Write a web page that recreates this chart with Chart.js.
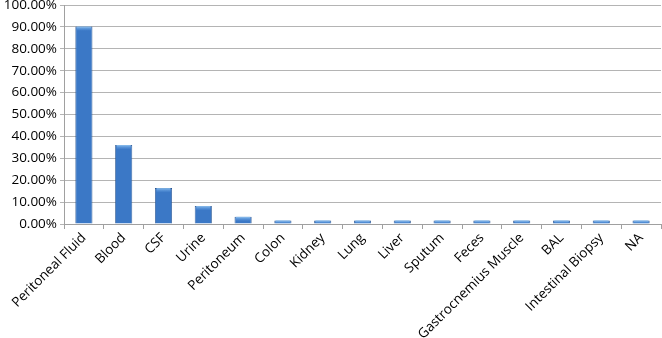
<!DOCTYPE html>
<html>
<head>
<meta charset="utf-8">
<script src="https://cdn.jsdelivr.net/npm/chart.js@4"></script>
<style>
    html, body { margin: 0; padding: 0; background: #fff; }
    #wrap { width: 662px; height: 338px; }
</style>
</head>
<body>
<div id="wrap"><canvas id="sourceChart"></canvas></div>
<script>
const categories = [
    "Peritoneal Fluid", "Blood", "CSF", "Urine", "Peritoneum", "Colon", "Kidney", "Lung",
    "Liver", "Sputum", "Feces", "Gastrocnemius Muscle", "BAL", "Intestinal Biopsy", "NA",
];
const percentages = [90.16, 36.07, 16.39, 8.2, 3.28, 1.64, 1.64, 1.64, 1.64, 1.64, 1.64, 1.64, 1.64, 1.64, 1.64];
const yTicks = [0, 10, 20, 30, 40, 50, 60, 70, 80, 90, 100];

const FONT = { family: "'Open Sans', 'Liberation Sans', sans-serif", size: 13.5 };

// cylinder-ish shading across each bar
function barFill(context) {
    const el = context.element;
    const ctx = context.chart.ctx;
    if (!el || el.width === undefined) return "#3b78c6";
    const x0 = el.x - el.width / 2;
    const x1 = el.x + el.width / 2;
    const g = ctx.createLinearGradient(x0, 0, x1, 0);
    g.addColorStop(0, "#2b5d9e");
    g.addColorStop(0.3, "#4182d2");
    g.addColorStop(0.55, "#4d8ddb");
    g.addColorStop(1, "#2a5a98");
    return g;
}

// light cap at the top of each bar
const capPlugin = {
    id: "capPlugin",
    afterDatasetsDraw(chart) {
        const ctx = chart.ctx;
        const meta = chart.getDatasetMeta(0);
        ctx.save();
        meta.data.forEach((bar) => {
            const w = bar.width;
            const h = Math.min(4, bar.base - bar.y);
            const g = ctx.createLinearGradient(0, bar.y, 0, bar.y + h);
            g.addColorStop(0, "#8cc0f0");
            g.addColorStop(1, "rgba(90,150,220,0.2)");
            ctx.fillStyle = g;
            ctx.fillRect(bar.x - w / 2 + 1.5, bar.y, w - 3, h);
        });
        ctx.restore();
    },
};

const chart = new Chart(document.getElementById("sourceChart"), {
    type: "bar",
    data: {
        labels: categories,
        datasets: [
            {
                data: percentages,
                backgroundColor: barFill,
                borderColor: "#2a5590",
                borderWidth: 0.8,
                barPercentage: 0.43,
                categoryPercentage: 1,
            },
        ],
    },
    options: {
        responsive: true,
        maintainAspectRatio: false,
        animation: false,
        layout: { padding: { top: 0, right: 1, left: 0, bottom: 0 } },
        plugins: {
            legend: { display: false },
            tooltip: { enabled: false },
        },
        scales: {
            x: {
                grid: {
                    offset: true,
                    drawOnChartArea: false,
                    drawTicks: true,
                    tickLength: 5,
                    color: "#a0a0a0",
                },
                border: { color: "#a0a0a0" },
                ticks: {
                    color: "#000",
                    font: FONT,
                    minRotation: 45,
                    maxRotation: 45,
                    autoSkip: false,
                    padding: 1,
                },
                afterFit(scale) { scale.height = 114; },
            },
            y: {
                min: 0,
                max: 100,
                afterBuildTicks(scale) { scale.ticks = yTicks.map((v) => ({ value: v })); },
                grid: { color: "#b4b4b4", tickLength: 4 },
                border: { color: "#a0a0a0" },
                ticks: {
                    color: "#000",
                    font: FONT,
                    padding: 3,
                    callback: (v) => v.toFixed(2) + "%",
                },
                afterFit(scale) {
                    scale.width = 64;
                    scale.paddingTop = 5;
                },
            },
        },
    },
    plugins: [capPlugin],
});
</script>
</body>
</html>
